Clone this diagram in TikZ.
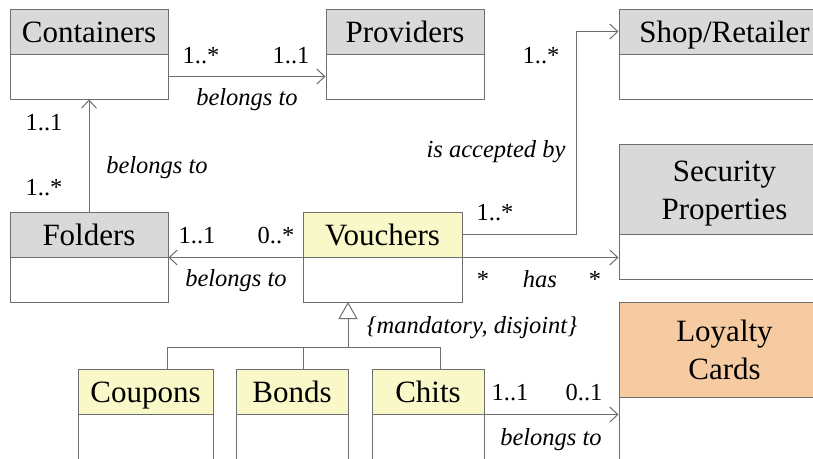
\documentclass[tikz,border=0pt]{standalone}
\usepackage{fontspec}
\setmainfont{Liberation Serif}
\usetikzlibrary{arrows.meta}
\definecolor{linegray}{HTML}{6E6E6E}
\definecolor{hgray}{HTML}{D9D9D9}
\definecolor{hyellow}{HTML}{F8F8C8}
\definecolor{horange}{HTML}{F7CBA2}
\begin{document}
\begin{tikzpicture}[x=1pt,y=-1pt,
  headbox/.style={draw=linegray, line width=1pt, fill=#1, minimum height=45pt,
    inner sep=0pt, align=center, font=\fontsize{31}{38}\selectfont},
  singleline/.style={text height=21pt, text depth=0pt},
  bodybox/.style={draw=linegray, line width=1pt, fill=white, minimum height=45pt, inner sep=0pt},
  conn/.style={draw=linegray, line width=1pt},
  assoc/.style={conn, -{Straight Barb[length=8pt,width=15pt]}},
  lbl/.style={anchor=base, inner sep=0pt, font=\fontsize{24.5}{29}\selectfont},
  rel/.style={lbl, font=\fontsize{24.5}{29}\selectfont\itshape}]
\useasboundingbox (0,0) rectangle (813,458);
\clip (0,0) rectangle (813,458);
\fill[white] (0,0) rectangle (813,458);

% ---- classes ----
\node[headbox=hgray, singleline, minimum width=158pt] (conth) at (89,31.5) {Containers};
\node[bodybox, minimum width=158pt] (contb) at (89,76.5) {};

\node[headbox=hgray, singleline, minimum width=158pt] (provh) at (405,31.5) {Providers};
\node[bodybox, minimum width=158pt] (provb) at (405,76.5) {};

\node[headbox=hgray, singleline, minimum width=211pt] (shoph) at (724.5,31.5) {Shop/Retailer};
\node[bodybox, minimum width=211pt] (shopb) at (724.5,76.5) {};

\node[headbox=hgray, minimum width=211pt, minimum height=90pt] (sech) at (724.5,189) {\rule{0pt}{29pt}Security\\Properties};
\node[bodybox, minimum width=211pt] (secb) at (724.5,256.5) {};

\node[headbox=hgray, singleline, minimum width=158pt] (foldh) at (89,234.5) {Folders};
\node[bodybox, minimum width=158pt] (foldb) at (89,279.5) {};

\node[headbox=hyellow, singleline, minimum width=159pt] (vouch) at (382.5,234.5) {Vouchers};
\node[bodybox, minimum width=159pt] (voucb) at (382.5,279.5) {};

\node[headbox=hyellow, singleline, minimum width=135pt] (couph) at (145.5,391.5) {Coupons};
\node[bodybox, minimum width=135pt, minimum height=60pt] (coupb) at (145.5,444) {};

\node[headbox=hyellow, singleline, minimum width=112pt] (bondh) at (292,391.5) {Bonds};
\node[bodybox, minimum width=112pt, minimum height=60pt] (bondb) at (292,444) {};

\node[headbox=hyellow, singleline, minimum width=112pt] (chith) at (428,391.5) {Chits};
\node[bodybox, minimum width=112pt, minimum height=60pt] (chitb) at (428,444) {};

\node[headbox=horange, minimum width=211pt, minimum height=95pt] (loyh) at (724.5,349.5) {Loyalty\\Cards};
\node[bodybox, minimum width=211pt, minimum height=75pt] (loyb) at (724.5,434.5) {};

% ---- associations ----
\draw[assoc] (contb.east) -- (provb.west);
\draw[assoc] (foldh.north) -- (contb.south);
\draw[assoc] (vouch.south west) -- (foldh.south east);
\draw[assoc] (vouch.east) -- ++(114,0) |- (shoph.west);
\draw[assoc] (vouch.south east) -- (vouch.south east -| secb.west);
\draw[assoc] (chith.south east) -- (chith.south east -| loyb.west);

% ---- generalization ----
\coordinate (apex) at (348,302);
\coordinate (genbar) at (348,347);
\draw[conn] (167,347) -- (440,347);
\draw[conn] (167,347) -- (167,369);
\draw[conn] (303,347) -- (303,369);
\draw[conn] (440,347) -- (440,369);
\draw[conn, -{Triangle[open, length=17pt, width=19pt, fill=white]}] (genbar) -- (apex);

% ---- association labels ----
\node[lbl] (m1) at (201,63) {1..*};
\node[lbl] (m2) at (291,63) {1..1};
\node[rel] (r1) at (247,105) {belongs to};

\node[lbl] (m3) at (44,130) {1..1};
\node[lbl] (m4) at (44,195) {1..*};
\node[rel] (r2) at (157,173) {belongs to};

\node[lbl] (m5) at (541,63) {1..*};
\node[rel] (r3) at (496,157) {is accepted by};
\node[lbl] (m6) at (495,220) {1..*};

\node[lbl] (m7) at (197,243) {1..1};
\node[lbl] (m8) at (276,243) {0..*};
\node[rel] (r4) at (236,286) {belongs to};

\node[lbl] (m9) at (483,287) {*};
\node[rel] (r5) at (540,287) {has};
\node[lbl] (m10) at (595,287) {*};

\node[rel] (gc) at (472,333) {\{mandatory, disjoint\}};

\node[lbl] (m11) at (510,400) {1..1};
\node[lbl] (m12) at (584,400) {0..1};
\node[rel] (r6) at (551,445) {belongs to};
\end{tikzpicture}
\end{document}
